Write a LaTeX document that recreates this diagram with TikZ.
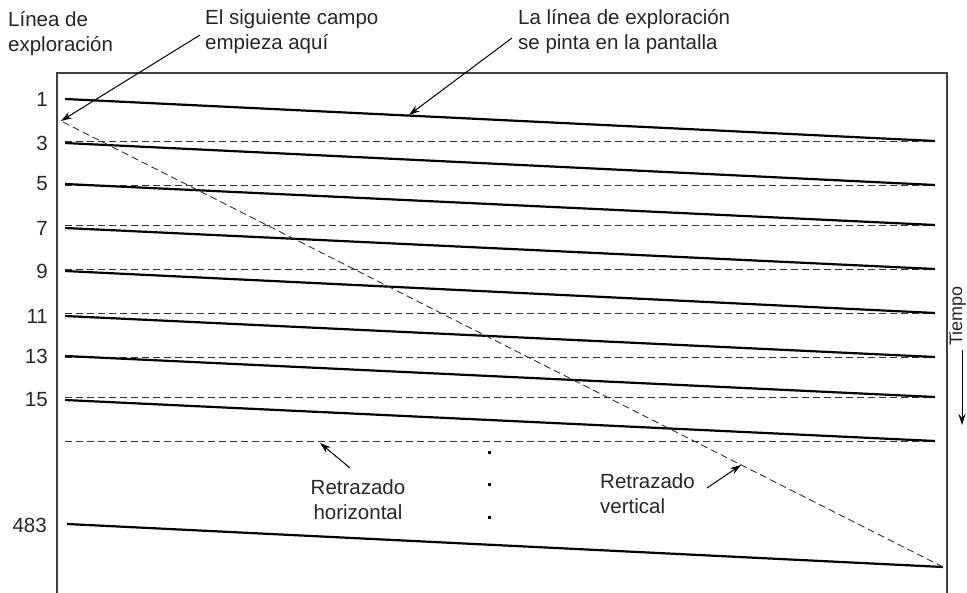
\documentclass[tikz,border=0pt]{standalone}
\usepackage{fontspec}
\setmainfont{Liberation Sans}
\usetikzlibrary{arrows.meta}
\begin{document}
\begin{tikzpicture}[x=1pt,y=-1pt,
  every node/.style={inner sep=0pt},
  lbl/.style={font=\fontsize{20.5}{25}\selectfont, align=left, text=black!85},
  num/.style={font=\fontsize{20.5}{25}\selectfont, anchor=east, text=black!85},
  frame/.style={draw=black!75, line width=1.3pt},
  scan/.style={draw=black, line width=2.2pt},
  retrace/.style={draw=black!80, line width=0.9pt, dash pattern=on 7pt off 4pt},
  arr/.style={draw=black, line width=1pt, -{Stealth[length=11pt,width=7pt]}},
  dotmark/.style={fill=black, minimum size=3pt, inner sep=0pt, rectangle}]
\useasboundingbox (0,0) rectangle (967,593);
% frame
\draw[frame] (57,593) -- (57,73) -- (947,73) -- (947,593);
% scan lines and horizontal retraces
\foreach \n/\a/\b in {1/99/141, 3/143/185, 5/184/225, 7/228/269, 9/271/313, 11/316/357, 13/356/397, 15/400/441} {
  \node[num] (n\n) at (48,\a) {\n};
  \coordinate (s\n) at (65,\a);
  \coordinate (e\n) at (935,\b);
  \coordinate (h\n) at (65,\b);
  \draw[retrace] (h\n) -- (e\n);
  \draw[scan] (s\n) -- (e\n);
}
\node[num] (n483) at (47,525) {483};
\coordinate (s483) at (67,524);
\coordinate (e483) at (943,567);
\draw[scan] (s483) -- (e483);
% vertical retrace
\coordinate (vstart) at (61,121);
\draw[retrace] (e483) -- (vstart);
% dots
\node[dotmark] (d1) at (489,453) {};
\node[dotmark] (d2) at (489,485) {};
\node[dotmark] (d3) at (489,517) {};
% labels
\node[lbl, anchor=north west] (linea) at (8,11) {Línea de\\exploración};
\node[lbl, anchor=north west] (campo) at (205,9) {El siguiente campo\\empieza aquí};
\node[lbl, anchor=north west] (pinta) at (518,9) {La línea de exploración\\se pinta en la pantalla};
\node[lbl, align=center] (rh) at (358,500) {Retrazado\\horizontal};
\node[lbl, anchor=west] (rv) at (600,494) {Retrazado\\vertical};
\node[font=\fontsize{18}{22}\selectfont, rotate=90, anchor=base, text=black!85] (tiempo) at (962,316) {Tiempo};
% arrows
\coordinate (a1) at (200,35);
\draw[arr] (a1) -- (vstart);
\coordinate (a2s) at (512,38);
\coordinate (a2e) at (409,115);
\draw[arr] (a2s) -- (a2e);
\coordinate (a3s) at (350,468);
\coordinate (a3e) at (320,443);
\draw[arr] (a3s) -- (a3e);
\coordinate (a4s) at (707,488);
\coordinate (a4e) at (741,465);
\draw[arr] (a4s) -- (a4e);
\coordinate (t1) at (962,350);
\coordinate (t2) at (962,425);
\draw[arr] (t1) -- (t2);
\end{tikzpicture}
\end{document}
